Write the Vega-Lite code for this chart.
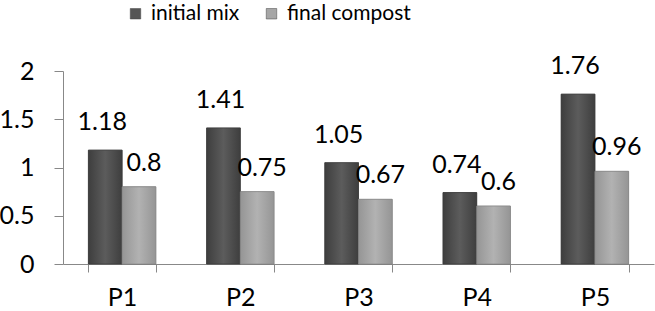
{
  "$schema": "https://vega.github.io/schema/vega-lite/v6.json",
  "width": 591,
  "height": 193,
  "autosize": "none",
  "padding": {"left": 63, "top": 71, "right": 1, "bottom": 47},
  "config": {
    "view": {"stroke": null},
    "font": "Lato",
    "text": {"font": "Lato"}
  },
  "data": {
    "values": [
      {"sample": "P1", "series": "initial mix", "value": 1.18},
      {"sample": "P1", "series": "final compost", "value": 0.8},
      {"sample": "P2", "series": "initial mix", "value": 1.41},
      {"sample": "P2", "series": "final compost", "value": 0.75},
      {"sample": "P3", "series": "initial mix", "value": 1.05},
      {"sample": "P3", "series": "final compost", "value": 0.67},
      {"sample": "P4", "series": "initial mix", "value": 0.74},
      {"sample": "P4", "series": "final compost", "value": 0.6},
      {"sample": "P5", "series": "initial mix", "value": 1.76},
      {"sample": "P5", "series": "final compost", "value": 0.96}
    ]
  },
  "encoding": {
    "x": {
      "field": "sample",
      "type": "nominal",
      "scale": {"paddingInner": 0.43, "paddingOuter": 0.215},
      "axis": {
        "title": null,
        "labelAngle": 0,
        "labelFontSize": 25,
        "labelColor": "#000000",
        "labelFont": "Lato",
        "tickBand": "extent",
        "tickSize": 8,
        "tickColor": "#888888",
        "domainColor": "#888888",
        "labelPadding": 13
      }
    },
    "xOffset": {"field": "series", "type": "nominal", "sort": ["initial mix", "final compost"]},
    "y": {
      "field": "value",
      "type": "quantitative",
      "scale": {"domain": [0, 2]},
      "axis": {
        "title": null,
        "values": [0, 0.5, 1, 1.5, 2],
        "format": "~g",
        "grid": false,
        "labelFontSize": 25,
        "labelColor": "#000000",
        "labelFont": "Lato",
        "tickSize": 9,
        "tickColor": "#888888",
        "domainColor": "#888888",
        "labelPadding": 20
      }
    }
  },
  "layer": [
    {
      "mark": {"type": "bar", "stroke": "#555555", "strokeWidth": 0.5},
      "encoding": {
        "color": {
          "field": "series",
          "type": "nominal",
          "sort": ["initial mix", "final compost"],
          "scale": {"domain": ["initial mix", "final compost"], "range": ["#555555", "#a6a6a6"]},
          "legend": {
            "title": null,
            "orient": "none",
            "legendX": 62,
            "legendY": -68,
            "direction": "horizontal",
            "symbolType": "square",
            "symbolSize": 110,
            "symbolStrokeColor": "#444444",
            "symbolStrokeWidth": 0.5,
            "labelFontSize": 21,
            "labelFont": "Lato",
            "labelColor": "#000000",
            "labelOffset": 5,
            "columnPadding": 21
          }
        }
      }
    },
    {
      "transform": [{"filter": "datum.series === 'initial mix'"}],
      "mark": {
        "type": "bar",
        "stroke": "#3a3a3a",
        "strokeWidth": 0.7,
        "fill": {
          "gradient": "linear", "x1": 0, "y1": 0, "x2": 1, "y2": 0,
          "stops": [
            {"offset": 0, "color": "#3e3e3e"},
            {"offset": 0.5, "color": "#5c5c5c"},
            {"offset": 1, "color": "#3e3e3e"}
          ]
        }
      },
      "encoding": {}
    },
    {
      "transform": [{"filter": "datum.series === 'final compost'"}],
      "mark": {
        "type": "bar",
        "stroke": "#8a8a8a",
        "strokeWidth": 0.7,
        "fill": {
          "gradient": "linear", "x1": 0, "y1": 0, "x2": 1, "y2": 0,
          "stops": [
            {"offset": 0, "color": "#959595"},
            {"offset": 0.5, "color": "#b2b2b2"},
            {"offset": 1, "color": "#959595"}
          ]
        }
      },
      "encoding": {}
    },
    {
      "transform": [{"filter": "datum.series === 'initial mix'"}],
      "mark": {"type": "text", "fontSize": 25, "baseline": "alphabetic", "dy": -20, "dx": -3, "color": "#000000"},
      "encoding": {
        "text": {"field": "value", "type": "quantitative"}
      }
    },
    {
      "transform": [{"filter": "datum.series === 'final compost'"}],
      "mark": {"type": "text", "fontSize": 25, "baseline": "alphabetic", "dy": -16, "dx": 5, "color": "#000000"},
      "encoding": {
        "text": {"field": "value", "type": "quantitative"}
      }
    }
  ]
}
